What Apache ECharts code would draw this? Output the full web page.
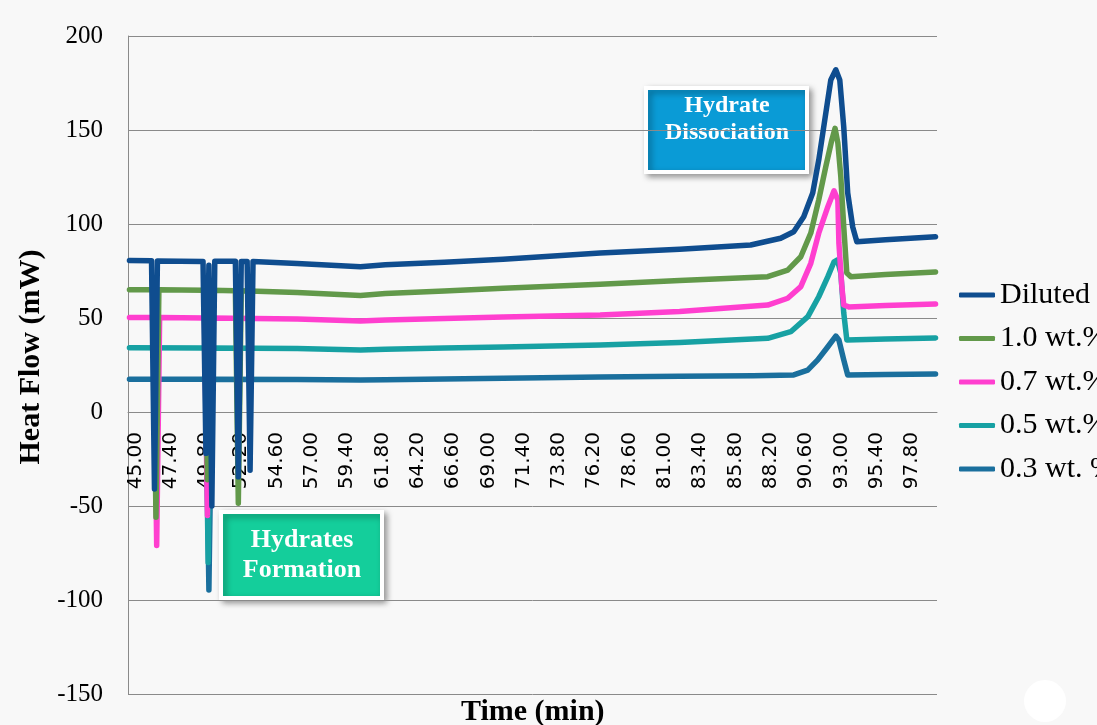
<!DOCTYPE html>
<html>
<head>
<meta charset="utf-8">
<script src="https://cdn.jsdelivr.net/npm/echarts@6/dist/echarts.min.js"></script>
<style>html,body{margin:0;padding:0;background:#f8f8f8;}#c{width:1097px;height:725px;}</style>
</head>
<body>
<div id="c"></div>
<script>
// ---- tick labels ----
const xTicks = [45.00,47.40,49.80,52.20,54.60,57.00,59.40,61.80,64.20,66.60,69.00,71.40,73.80,76.20,78.60,81.00,83.40,85.80,88.20,90.60,93.00,95.40,97.80];

// ---- series: times (min) and heat flow (mW) ----
const dilutedT = [44.6,46.1,46.3,46.5,49.6,49.8,50.0,50.2,50.4,51.8,52.0,52.2,52.6,52.8,53.0,56.0,60.3,62.0,66.0,70.0,76.6,82.0,86.83,88.87,89.76,90.44,91.05,91.46,91.94,92.28,92.62,92.89,93.16,93.43,93.77,94.05,96.0,99.4];
const dilutedV = [80.6,80.4,-41,80.3,80.1,-22,78,-50,80.2,80.2,-34.5,80.1,80.1,-31,80.0,79.0,77.3,78.3,79.6,81.3,84.6,86.6,88.8,92.4,95.9,103.9,116.5,134,159,176.6,182,176.6,151.6,116.5,98.4,90.6,91.6,93.2];

const w10T = [44.6,46.2,46.4,46.6,49.7,49.9,50.1,51.8,52.0,52.2,56.0,60.3,62.0,66.0,70.0,76.6,82.0,87.99,89.35,90.24,90.92,91.46,91.94,92.35,92.57,92.76,92.96,93.16,93.37,93.64,96.0,99.4];
const w10V = [65.0,65.0,-56,65.0,64.8,-36,64.8,64.5,-48.5,64.5,63.5,62.0,63.0,64.3,65.8,68.0,70.0,72.0,75.5,82.6,95.2,112.8,130.5,144.7,150.9,143.1,125.2,98.6,73.9,72.0,73.2,74.5];

const w07T = [44.6,46.25,46.45,46.65,49.7,49.9,50.1,56.0,60.3,62.0,66.0,70.0,76.6,82.0,87.99,89.35,90.24,90.92,91.46,92.08,92.5,92.76,92.83,93.03,93.16,93.5,96.0,99.4];
const w07V = [50.2,50.2,-71,50.2,50.0,-55,50.0,49.5,48.4,49.0,49.8,50.5,51.6,53.5,56.9,60.5,66.7,79.1,95.1,109.2,117.7,112.8,89.9,66.7,56.9,55.9,56.6,57.4];

const w05T = [44.6,49.75,49.95,50.15,56.0,60.3,62.0,66.0,70.0,76.6,82.0,87.99,89.56,90.72,91.46,92.08,92.5,92.73,92.96,93.16,93.37,96.0,99.4];
const w05V = [34.2,34.0,-80,34.0,33.8,33.0,33.4,34.0,34.6,35.6,37.0,39.2,42.7,50.7,61.3,72.0,79.9,80.9,73.9,52.7,38.3,38.8,39.4];

const w03T = [44.6,49.8,50.0,50.2,56.0,60.3,62.0,66.0,70.0,76.6,82.0,87.0,89.76,90.71,91.39,92.08,92.62,92.83,93.16,93.43,96.0,99.4];
const w03V = [17.4,17.4,-94.7,17.4,17.3,17.0,17.2,17.5,17.9,18.6,19.0,19.3,19.7,22.3,27.7,34.7,40.4,38.3,27.7,19.7,19.9,20.2];

const names = ['Diluted','1.0 wt.%','0.7 wt.%','0.5 wt.%','0.3 wt. %'];
const colors = ['#0f4d8f','#62994a','#ff3fcf','#17a1a3','#1a6f9d'];
const times = [dilutedT,w10T,w07T,w05T,w03T];
const vals = [dilutedV,w10V,w07V,w05V,w03V];

const serif = 'Liberation Serif';
const chart = echarts.init(document.getElementById('c'), null, {renderer:'canvas'});

const series = names.map((n,i)=>({
  name:n, type:'line', showSymbol:false, symbol:'none',
  z: 10 - i,
  color: colors[i],
  lineStyle:{width:5.5, color:colors[i], cap:'round', join:'round'},
  data: times[i].map((t,k)=>[t, vals[i][k]])
}));

chart.setOption({
  animation:false,
  backgroundColor:'#f8f8f8',
  grid:{left:128,right:160,top:36,bottom:31,containLabel:false},
  xAxis:{
    type:'value', min:44.5, max:99.5, position:'bottom', offset:-282,
    axisLine:{onZero:false, lineStyle:{color:'#8a8a8a',width:1}},
    axisTick:{show:false},
    splitLine:{show:false},
    axisLabel:{customValues:xTicks, formatter:v=>v.toFixed(2), rotate:90, fontFamily:'DejaVu Sans', fontSize:20, color:'#000', margin:20}
  },
  yAxis:{
    type:'value', min:-150, max:200, interval:50,
    axisLine:{show:true, lineStyle:{color:'#8a8a8a',width:1}},
    axisTick:{show:false},
    splitLine:{show:true, lineStyle:{color:'#8a8a8a',width:1}},
    axisLabel:{fontFamily:serif, fontSize:25, color:'#000', margin:25},
    name:'Heat Flow (mW)', nameLocation:'middle', nameGap:78,
    nameTextStyle:{fontFamily:serif, fontWeight:'bold', fontSize:30, color:'#000', padding:[0,0,0,16]}
  },
  legend:{
    orient:'vertical', left:954, top:275,
    icon:'roundRect', itemWidth:36, itemHeight:5, itemGap:13.5,
    data:names,
    textStyle:{fontFamily:serif, fontSize:30, color:'#000'}
  },
  series:series,
  graphic:[
    {type:'text', left:461, top:697, z:50, style:{text:'Time (min)', fontFamily:serif, fontWeight:'bold', fontSize:30, fill:'#000'}},
    {type:'circle', shape:{cx:1045, cy:701, r:21}, z:50, style:{fill:'#ffffff'}},
    {type:'group', z:60, children:[
      {type:'rect', shape:{x:646,y:88,width:161,height:84}, style:{fill:'#0a9bd6', stroke:'#ffffff', lineWidth:4, shadowBlur:6, shadowOffsetX:3, shadowOffsetY:3, shadowColor:'rgba(0,0,0,0.35)'}},
      {type:'text', x:727, y:106, style:{text:'Hydrate', fontFamily:serif, fontWeight:'bold', fontSize:24, fill:'#fff', align:'center', verticalAlign:'middle'}},
      {type:'text', x:727, y:133, style:{text:'Dissociation', fontFamily:serif, fontWeight:'bold', fontSize:24, fill:'#fff', align:'center', verticalAlign:'middle'}}
    ]},
    {type:'group', z:60, children:[
      {type:'rect', shape:{x:221,y:512,width:161,height:86}, style:{fill:'#14ce9b', stroke:'#ffffff', lineWidth:4, shadowBlur:6, shadowOffsetX:3, shadowOffsetY:3, shadowColor:'rgba(0,0,0,0.35)'}},
      {type:'text', x:302, y:540, style:{text:'Hydrates', fontFamily:serif, fontWeight:'bold', fontSize:26, fill:'#fff', align:'center', verticalAlign:'middle'}},
      {type:'text', x:302, y:570, style:{text:'Formation', fontFamily:serif, fontWeight:'bold', fontSize:26, fill:'#fff', align:'center', verticalAlign:'middle'}}
    ]}
  ]
});
</script>
</body>
</html>
